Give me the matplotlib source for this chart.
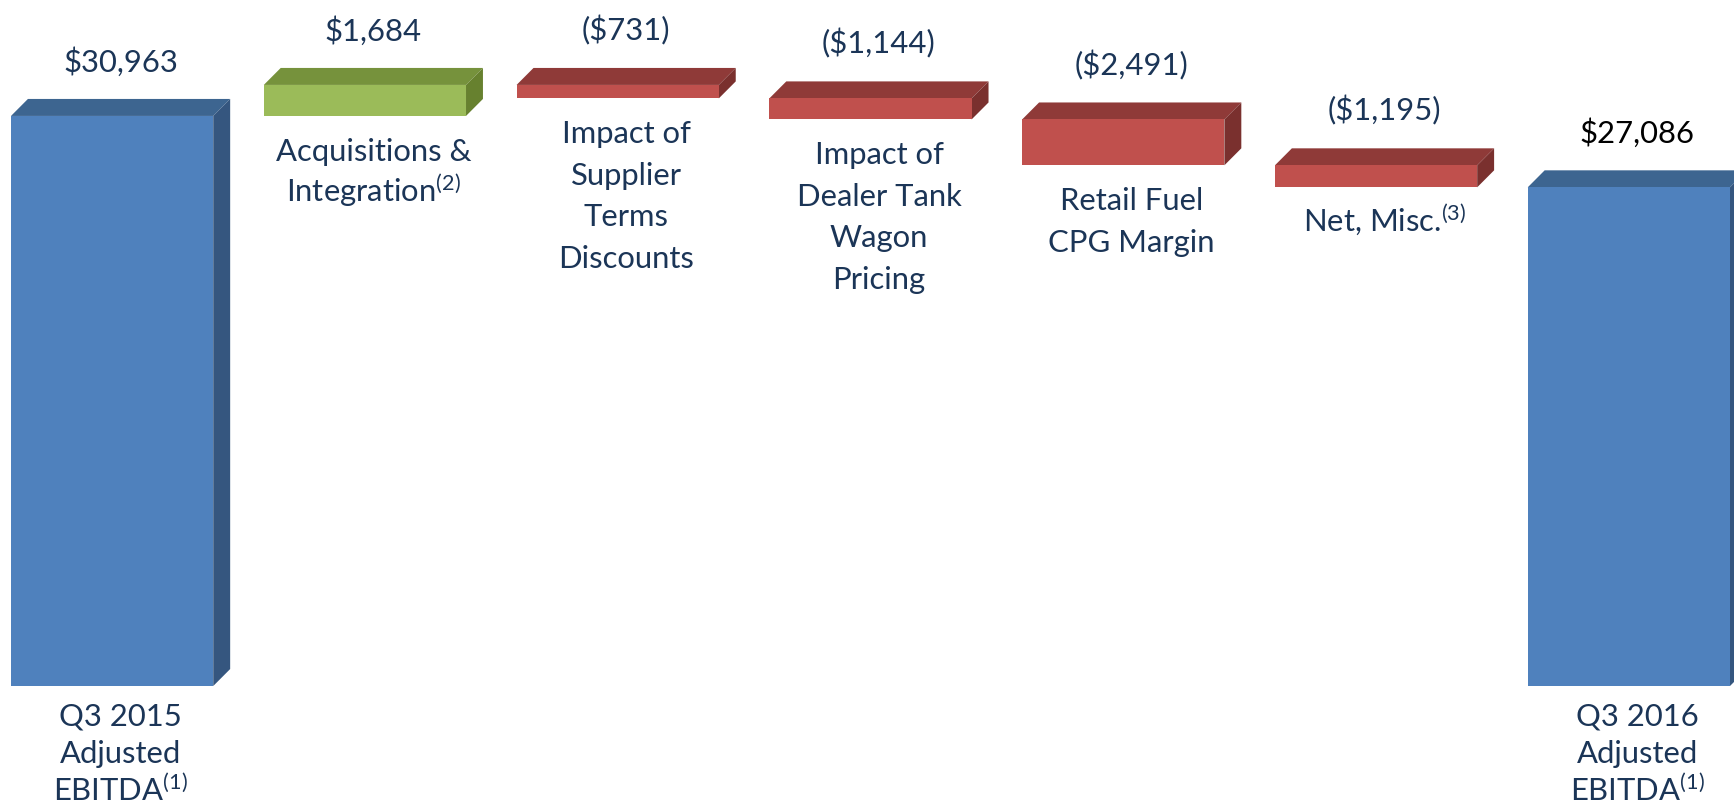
import matplotlib
matplotlib.use("Agg")
import matplotlib.pyplot as plt
from matplotlib.patches import Polygon

plt.rcParams['font.family'] = ['Lato', 'DejaVu Sans']
plt.rcParams['mathtext.fontset'] = 'custom'
plt.rcParams['mathtext.rm'] = 'Lato'
plt.rcParams['mathtext.it'] = 'Lato:italic'
plt.rcParams['mathtext.bf'] = 'Lato:bold'

# data
categories = ['Q3 2015\nAdjusted\nEBITDA$^{(1)}$',
              'Acquisitions &\nIntegration$^{(2)}$',
              'Impact of\nSupplier\nTerms\nDiscounts',
              'Impact of\nDealer Tank\nWagon\nPricing',
              'Retail Fuel\nCPG Margin',
              'Net, Misc.$^{(3)}$',
              'Q3 2016\nAdjusted\nEBITDA$^{(1)}$']
values = [30963, 1684, -731, -1144, -2491, -1195, 27086]
kinds = ['total', 'delta', 'delta', 'delta', 'delta', 'delta', 'total']
value_labels = ['$30,963', '$1,684', '($731)', '($1,144)', '($2,491)', '($1,195)', '$27,086']

# colours: front, top, side
blue = ('#4F81BD', '#3D6590', '#35567F')
green = ('#9BBB59', '#76923C', '#67812F')
red = ('#C0504D', '#8F3A38', '#7A302E')
text_col = '#1B3557'
fs = 22.3

fig = plt.figure(figsize=(17.34, 8.10), dpi=100)
ax = fig.add_axes([0, 0, 1, 1])
ax.set_xlim(-0.4435, 6.416)
ax.set_ylim(-6733, 37260)
ax.axis('off')

width = 0.8
dx = 0.067    # depth in x (data units)
dy = 923      # depth in y (data units)

running = 0
for i, (v, k) in enumerate(zip(values, kinds)):
    if k == 'total':
        bottom, top = 0, v
        cols = blue
        running = v
    else:
        new = running + v
        bottom, top = min(running, new), max(running, new)
        cols = green if v > 0 else red
        running = new
    left, right = i - width / 2, i + width / 2
    ax.bar(i, top - bottom, width=width, bottom=bottom, color=cols[0],
           edgecolor='none', zorder=3)
    ax.add_patch(Polygon([(left, top), (right, top), (right + dx, top + dy),
                          (left + dx, top + dy)], closed=True,
                         facecolor=cols[1], edgecolor='none', zorder=2))
    ax.add_patch(Polygon([(right, bottom), (right + dx, bottom + dy),
                          (right + dx, top + dy), (right, top)], closed=True,
                         facecolor=cols[2], edgecolor='none', zorder=2))

    vcol = 'black' if i == len(values) - 1 else text_col
    ax.annotate(value_labels[i], (i + dx / 2, top + dy), xytext=(0, 27),
                textcoords='offset points', ha='center', va='center',
                fontsize=fs, color=vcol)

    # category label, one line at a time so the superscripts don't push lines apart
    if k == 'total':
        first, step = -28.5, 27.0
    else:
        first, step = -32.2, 29.9
    for j, line in enumerate(categories[i].split('\n')):
        ax.annotate(line, (i + dx / 2, bottom), xytext=(0, first - j * step),
                    textcoords='offset points', ha='center', va='baseline',
                    fontsize=fs, color=text_col)

fig.savefig('out.png', dpi=100)
